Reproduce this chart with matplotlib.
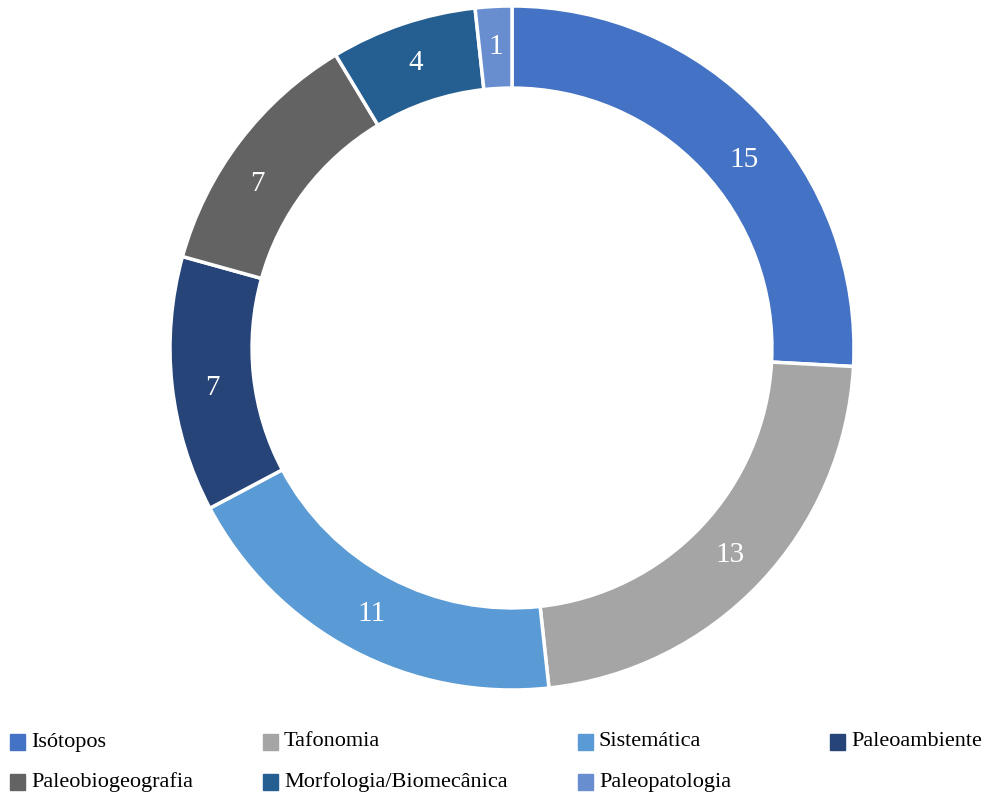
import matplotlib.pyplot as plt
from matplotlib.patches import Rectangle

#data
categorias = ["Isótopos", "Tafonomia", "Sistemática", "Paleoambiente",
              "Paleobiogeografia", "Morfologia/Biomecânica", "Paleopatologia"]
valores = [15, 13, 11, 7, 7, 4, 1]
cores = ["#4472C4", "#A5A5A5", "#5B9BD5", "#264478",
         "#636363", "#255E91", "#698ED0"]

plt.rcParams['font.family'] = ['Liberation Serif', 'DejaVu Serif']

fig = plt.figure(figsize=(9.85, 7.96), dpi=100)
ax = fig.add_axes([170/985, 106/796, 684/985, 684/796])

wedges, texts = ax.pie(valores, colors=cores, startangle=90, counterclock=False,
                       radius=1, labels=[str(v) for v in valores], labeldistance=0.88,
                       wedgeprops=dict(width=0.24, edgecolor='white', linewidth=2.5),
                       textprops=dict(color='white', fontsize=21))
# small nudges so labels sit like in the original
ajustes = {0: (0.041, -0.056), 3: (0.0, -0.023), 4: (-0.044, -0.053)}
for i, t in enumerate(texts):
    t.set_ha('center')
    t.set_va('center')
    if i in ajustes:
        x, y = t.get_position()
        t.set_position((x + ajustes[i][0], y + ajustes[i][1]))
ax.set_xlim(-1, 1)
ax.set_ylim(-1, 1)
ax.set_aspect('equal')
ax.axis('off')

#legend drawn by hand
leg_x = [10, 263, 578, 830, 10, 263, 578]
leg_y = [742, 742, 742, 742, 782, 782, 782]
for nome, cor, x, y in zip(categorias, cores, leg_x, leg_y):
    fig.add_artist(Rectangle((x/985, (796 - y - 8)/796), 15/985, 16/796,
                             transform=fig.transFigure, color=cor))
    fig.text((x + 21)/985, (796 - y)/796, nome, fontsize=16, va='center',
             ha='left', color='#000000')

fig.savefig("out.png", dpi=100)
